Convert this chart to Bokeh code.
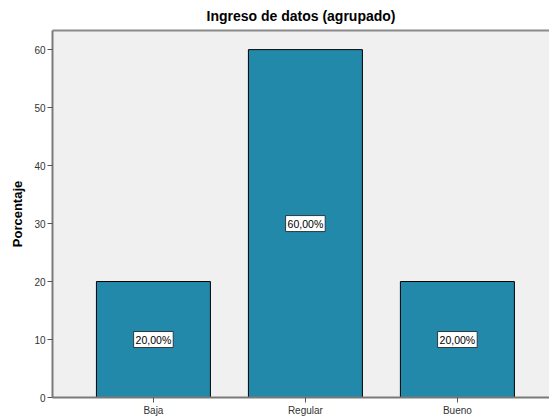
from bokeh.plotting import figure
from bokeh.models import ColumnDataSource, Label, LinearAxis, Range1d, FixedTicker
from bokeh.embed import file_html
from bokeh.resources import INLINE

categories = ["Baja", "Regular", "Bueno"]
values = [20, 60, 20]
labels = ["20,00%", "60,00%", "20,00%"]
y_ticks = [0, 10, 20, 30, 40, 50, 60]

xpos = list(range(1, len(categories) + 1))
src = ColumnDataSource(dict(x=xpos, top=values))

FONT = "Liberation Sans"

p = figure(width=549, height=418, output_backend="svg", toolbar_location=None,
           x_range=Range1d(0.336, 3.606), y_range=Range1d(0, 63.3),
           title="Ingreso de datos (agrupado)",
           min_border_left=52, min_border_right=0, min_border_bottom=19, min_border_top=30)

p.title.align = "center"
p.title.text_font = FONT
p.title.text_font_size = "14px"
p.title.text_font_style = "bold"
p.title.text_color = "#000000"
p.title.offset = 0
p.title.standoff = 1

p.background_fill_color = "#F0F0F0"
p.border_fill_color = "white"
p.outline_line_color = None
p.grid.visible = False

p.vbar(x="x", top="top", width=0.75, source=src, fill_color="#2389AB",
       line_color="#000000", line_width=1)

for xv, v, t in zip(xpos, values, labels):
    p.add_layout(Label(x=xv, y=v / 2, text=t, text_align="center",
                       text_baseline="middle", text_font_size="10.5px", text_font=FONT,
                       text_color="#000000", background_fill_color="white",
                       border_line_color="#2a3a40", border_line_width=1, padding=2))

# axes
p.xaxis.ticker = FixedTicker(ticks=xpos)
p.xaxis.major_label_overrides = {i: c for i, c in zip(xpos, categories)}
p.yaxis.ticker = FixedTicker(ticks=y_ticks)
p.yaxis.axis_label = "Porcentaje"
p.yaxis.axis_label_text_font = FONT
p.yaxis.axis_label_text_font_size = "13px"
p.yaxis.axis_label_text_font_style = "bold"
p.yaxis.axis_label_text_color = "#000000"
p.yaxis.axis_label_standoff = 6

for ax in (p.xaxis, p.yaxis):
    ax.axis_line_color = "#7a7a7a"
    ax.axis_line_width = 2
    ax.major_tick_line_color = "#555555"
    ax.major_tick_line_width = 1
    ax.major_tick_out = 5
    ax.major_tick_in = 0
    ax.minor_tick_line_color = None
    ax.major_label_text_font = FONT
    ax.major_label_text_font_size = "10px"
    ax.major_label_text_color = "#333333"
    ax.major_label_standoff = 2

top_axis = LinearAxis(axis_line_color="#8a8a8a", axis_line_width=2,
                      major_tick_line_color=None, minor_tick_line_color=None,
                      major_label_text_font_size="0px", major_label_text_color=None)
p.add_layout(top_axis, "above")

open("out.html", "w").write(file_html(p, INLINE))
